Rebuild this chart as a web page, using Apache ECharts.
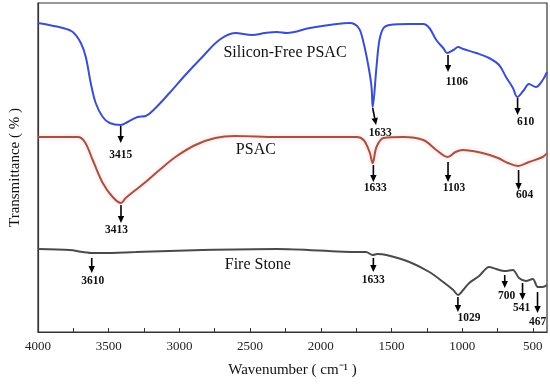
<!DOCTYPE html>
<html>
<head>
<meta charset="utf-8">
<script src="https://cdn.jsdelivr.net/npm/echarts@6/dist/echarts.min.js"></script>
<style>
html,body{margin:0;padding:0;background:#fff;}
#chart{width:550px;height:385px;}
</style>
</head>
<body>
<div id="chart"></div>
<script>
// ---- data (wavenumber cm-1, relative transmittance, arbitrary offset units) ----
var silFreeWave = [4000,3824,3754,3697,3662,3627,3592,3542,3493,3415,3366,3296,3239,3169,3070,2958,2838,2718,2606,2486,2394,2310,2239,2077,1887,1796,1732,1697,1662,1641,1633,1606,1585,1556,1514,1373,1275,1232,1183,1134,1106,1063,1028,993,901,810,739,690,641,610,563,528,479,430,400];
var silFreeVal  = [309,304,300,289,275,249,229,215,209,207,210,215,216,224,239,257,275,292,299,297,299,300,299,304,308,309,304,289,265,245,225,265,292,304,307,308,308,304,292,284,279,282,285,283,279,274,267,255,244,235,242,248,245,252,260];

var psacWave = [4000,3718,3669,3613,3542,3472,3413,3380,3310,3239,3141,3028,2887,2747,2606,2310,1746,1697,1655,1633,1606,1556,1415,1275,1183,1103,1047,997,857,746,676,604,528,430,400];
var psacVal  = [195,195,190,172,149,135,129,134,142,150,162,175,187,194,196,195,195,192,180,169,185,194,195,192,182,175,180,182,179,174,169,166,170,175,179];

var fireWave = [4000,3775,3683,3610,3542,3310,2838,2310,1725,1680,1633,1600,1536,1373,1232,1134,1063,1029,993,950,880,810,760,700,641,598,549,500,465,430,400];
var fireVal  = [83,82,80,79,79,80,82,83,80,80,77,78,77,70,60,50,42,37,42,49,56,65,63,61,62,54,51,53,45,45,47];

var seriesNames = ['Silicon-Free PSAC','PSAC','Fire Stone'];
var seriesNamePos = [[2253,279],[2459,182],[2445,67]];

// peak annotations: label text
var peakLabels = ['3415','1633','1106','610','3413','1633','1103','604','3610','1633','1029','700','541','467'];
// arrow: [topWave, topVal, tipWave, tipVal, labelWave, labelVal]
var peakArrows = [
  [3415,206,3415,189,3415,177],
  [1633,224,1609,207,1579,199],
  [1100,277,1100,260,1037,250],
  [608,234,608,217,551,210],
  [3413,127,3413,109,3444,102],
  [1628,167,1628,150,1614,144],
  [1100,170,1100,150,1058,144],
  [601,162,601,142,559,137],
  [3620,74,3620,59,3613,51],
  [1628,74,1628,60,1628,52],
  [1030,35,1030,20,952,14],
  [699,57,699,44,685,36],
  [573,49,573,32,580,24],
  [467,40,467,19,467,10]
];

var xLabelValues = [4000,3500,3000,2500,2000,1500,1000,500];
var xTickValues = [4000,3750,3500,3250,3000,2750,2500,2250,2000,1750,1500,1250,1000,750,500];

function zip(a,b){return a.map(function(v,i){return [v,b[i]];});}

var serif = '"Liberation Serif", "Times New Roman", serif';

var chart = echarts.init(document.getElementById('chart'), null, {renderer:'canvas'});

var option = {
  animation:false,
  backgroundColor:'#fff',
  grid:{left:35,right:3,top:3,bottom:53,show:true,borderColor:'#333',borderWidth:1.2,backgroundColor:'transparent'},
  xAxis:{
    type:'value',min:400,max:4000,inverse:true,
    name:'Wavenumber ( cm\u207B\u00B9 )',nameLocation:'middle',nameGap:31,
    nameTextStyle:{fontFamily:serif,fontSize:15,color:'#111'},
    axisLine:{show:true,lineStyle:{color:'#333',width:1.2}},
    axisTick:{show:true,inside:true,length:4,customValues:xTickValues,lineStyle:{color:'#333'}},
    axisLabel:{customValues:xLabelValues,formatter:function(v){return String(v);},fontFamily:serif,fontSize:13,color:'#222',margin:8},
    splitLine:{show:false}
  },
  yAxis:{
    type:'value',min:0,max:329,
    name:'Transmittance ( % )',nameLocation:'middle',nameGap:15,nameRotate:90,
    nameTextStyle:{fontFamily:serif,fontSize:15,color:'#111'},
    axisLine:{show:true,lineStyle:{color:'#333',width:1.2}},
    axisTick:{show:false},axisLabel:{show:false},splitLine:{show:false}
  },
  series:[
    {type:'line',name:seriesNames[0],data:zip(silFreeWave,silFreeVal),showSymbol:false,smooth:0.35,
     lineStyle:{color:'#3a4fd0',width:2},itemStyle:{color:'#3a4fd0'}},
    {type:'line',name:seriesNames[1],data:zip(psacWave,psacVal),showSymbol:false,smooth:0.35,
     lineStyle:{color:'#a5533a',width:2,shadowColor:'rgba(255,160,190,0.6)',shadowBlur:4},itemStyle:{color:'#a5533a'}},
    {type:'line',name:seriesNames[2],data:zip(fireWave,fireVal),showSymbol:false,smooth:0.3,
     lineStyle:{color:'#4a4a4a',width:2},itemStyle:{color:'#4a4a4a'}},
    {type:'custom',name:'peaks',clip:false,silent:true,data:peakArrows,
     renderItem:function(params,api){
       var d = peakArrows[params.dataIndex];
       var p0 = api.coord([d[0],d[1]]), p1 = api.coord([d[2],d[3]]), pl = api.coord([d[4],d[5]]);
       var dx=p1[0]-p0[0], dy=p1[1]-p0[1], L=Math.sqrt(dx*dx+dy*dy), ux=dx/L, uy=dy/L;
       var hl=7, hw=3.2;
       var bx=p1[0]-ux*hl, by=p1[1]-uy*hl;
       return {type:'group',children:[
         {type:'line',shape:{x1:p0[0],y1:p0[1],x2:bx,y2:by},style:{stroke:'#000',lineWidth:1.6}},
         {type:'polygon',shape:{points:[[p1[0],p1[1]],[bx-uy*hw,by+ux*hw],[bx+uy*hw,by-ux*hw]]},style:{fill:'#000'}},
         {type:'text',x:pl[0],y:pl[1],style:{text:peakLabels[params.dataIndex],fontFamily:serif,fontSize:11.5,fontWeight:'bold',fill:'#111',align:'center',verticalAlign:'middle'}}
       ]};
     }},
    {type:'custom',name:'names',clip:false,silent:true,data:seriesNamePos,
     renderItem:function(params,api){
       var d = seriesNamePos[params.dataIndex];
       var p = api.coord(d);
       return {type:'text',x:p[0],y:p[1],style:{text:seriesNames[params.dataIndex],fontFamily:serif,fontSize:16,fill:'#111',align:'center',verticalAlign:'middle'}};
     }}
  ]
};
chart.setOption(option);
</script>
</body>
</html>
